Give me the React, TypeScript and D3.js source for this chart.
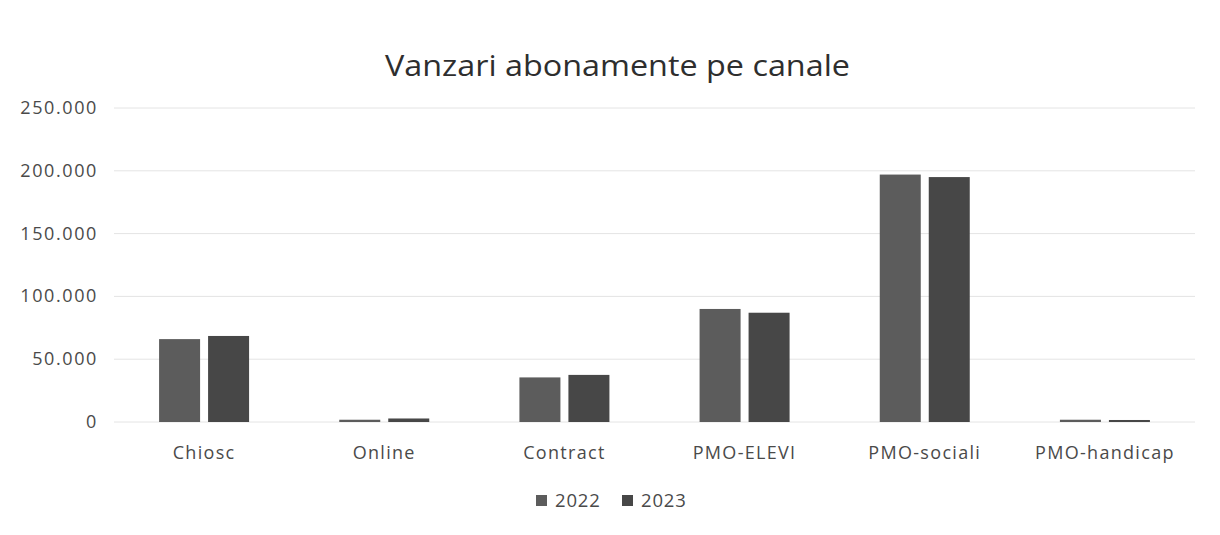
import React from "react";
import * as d3 from "d3";

const categories = ["Chiosc", "Online", "Contract", "PMO-ELEVI", "PMO-sociali", "PMO-handicap"];
const seriesNames = ["2022", "2023"];
const values2022 = [66000, 1800, 35500, 90000, 197000, 1800];
const values2023 = [68500, 2800, 37500, 87000, 195000, 1600];
const yTicks = [0, 50000, 100000, 150000, 200000, 250000];
const yTickLabels = ["0", "50.000", "100.000", "150.000", "200.000", "250.000"];
const colors = ["#5c5c5c", "#474747"];

const W = 1220;
const H = 535;
const FONT = "'Open Sans', Lato, sans-serif";

export default function App() {
  const x = d3.scaleBand<string>().domain(categories).range([114, 1195]).padding(0);
  const y = d3.scaleLinear().domain([0, 250000]).range([422, 108]);
  const bw = 41;
  const gap = 8;
  const series = [values2022, values2023];

  return (
    <svg width={W} height={H} style={{ position: "absolute", left: 0, top: 0, background: "#fff" }}>
      <rect x={0} y={0} width={W} height={H} fill="#fff" />
      <text
        x={385}
        y={76}
        textLength={465}
        lengthAdjust="spacingAndGlyphs"
        fontFamily={FONT}
        fontSize={29}
        fill="#2e2e2e"
      >
        Vanzari abonamente pe canale
      </text>
      {yTicks.map((t, i) => (
        <g key={t}>
          <line x1={114} x2={1195} y1={y(t)} y2={y(t)} stroke="#e4e4e4" strokeWidth={1} />
          <text
            x={98}
            y={y(t) + 6}
            textAnchor="end"
            fontFamily={FONT}
            fontSize={18}
            letterSpacing={1.6}
            fill="#4a4a4a"
          >
            {yTickLabels[i]}
          </text>
        </g>
      ))}
      {categories.map((c, ci) => {
        const cx = (x(c) as number) + x.bandwidth() / 2;
        return (
          <g key={c}>
            {series.map((vals, si) => {
              const bx = si === 0 ? cx - gap / 2 - bw : cx + gap / 2;
              const h = y(0) - y(vals[ci]);
              return <rect key={si} x={bx} y={y(vals[ci])} width={bw} height={Math.max(h, 2)} fill={colors[si]} />;
            })}
            <text x={cx} y={459} textAnchor="middle" fontFamily={FONT} fontSize={18} letterSpacing={1.3} fill="#4a4a4a">
              {c}
            </text>
          </g>
        );
      })}
      {seriesNames.map((s, i) => {
        const lx = 536 + i * 86;
        return (
          <g key={s}>
            <rect x={lx} y={495} width={11} height={11} fill={colors[i]} />
            <text x={lx + 19} y={507} fontFamily={FONT} fontSize={18.5} letterSpacing={0.8} fill="#4a4a4a">
              {s}
            </text>
          </g>
        );
      })}
    </svg>
  );
}
